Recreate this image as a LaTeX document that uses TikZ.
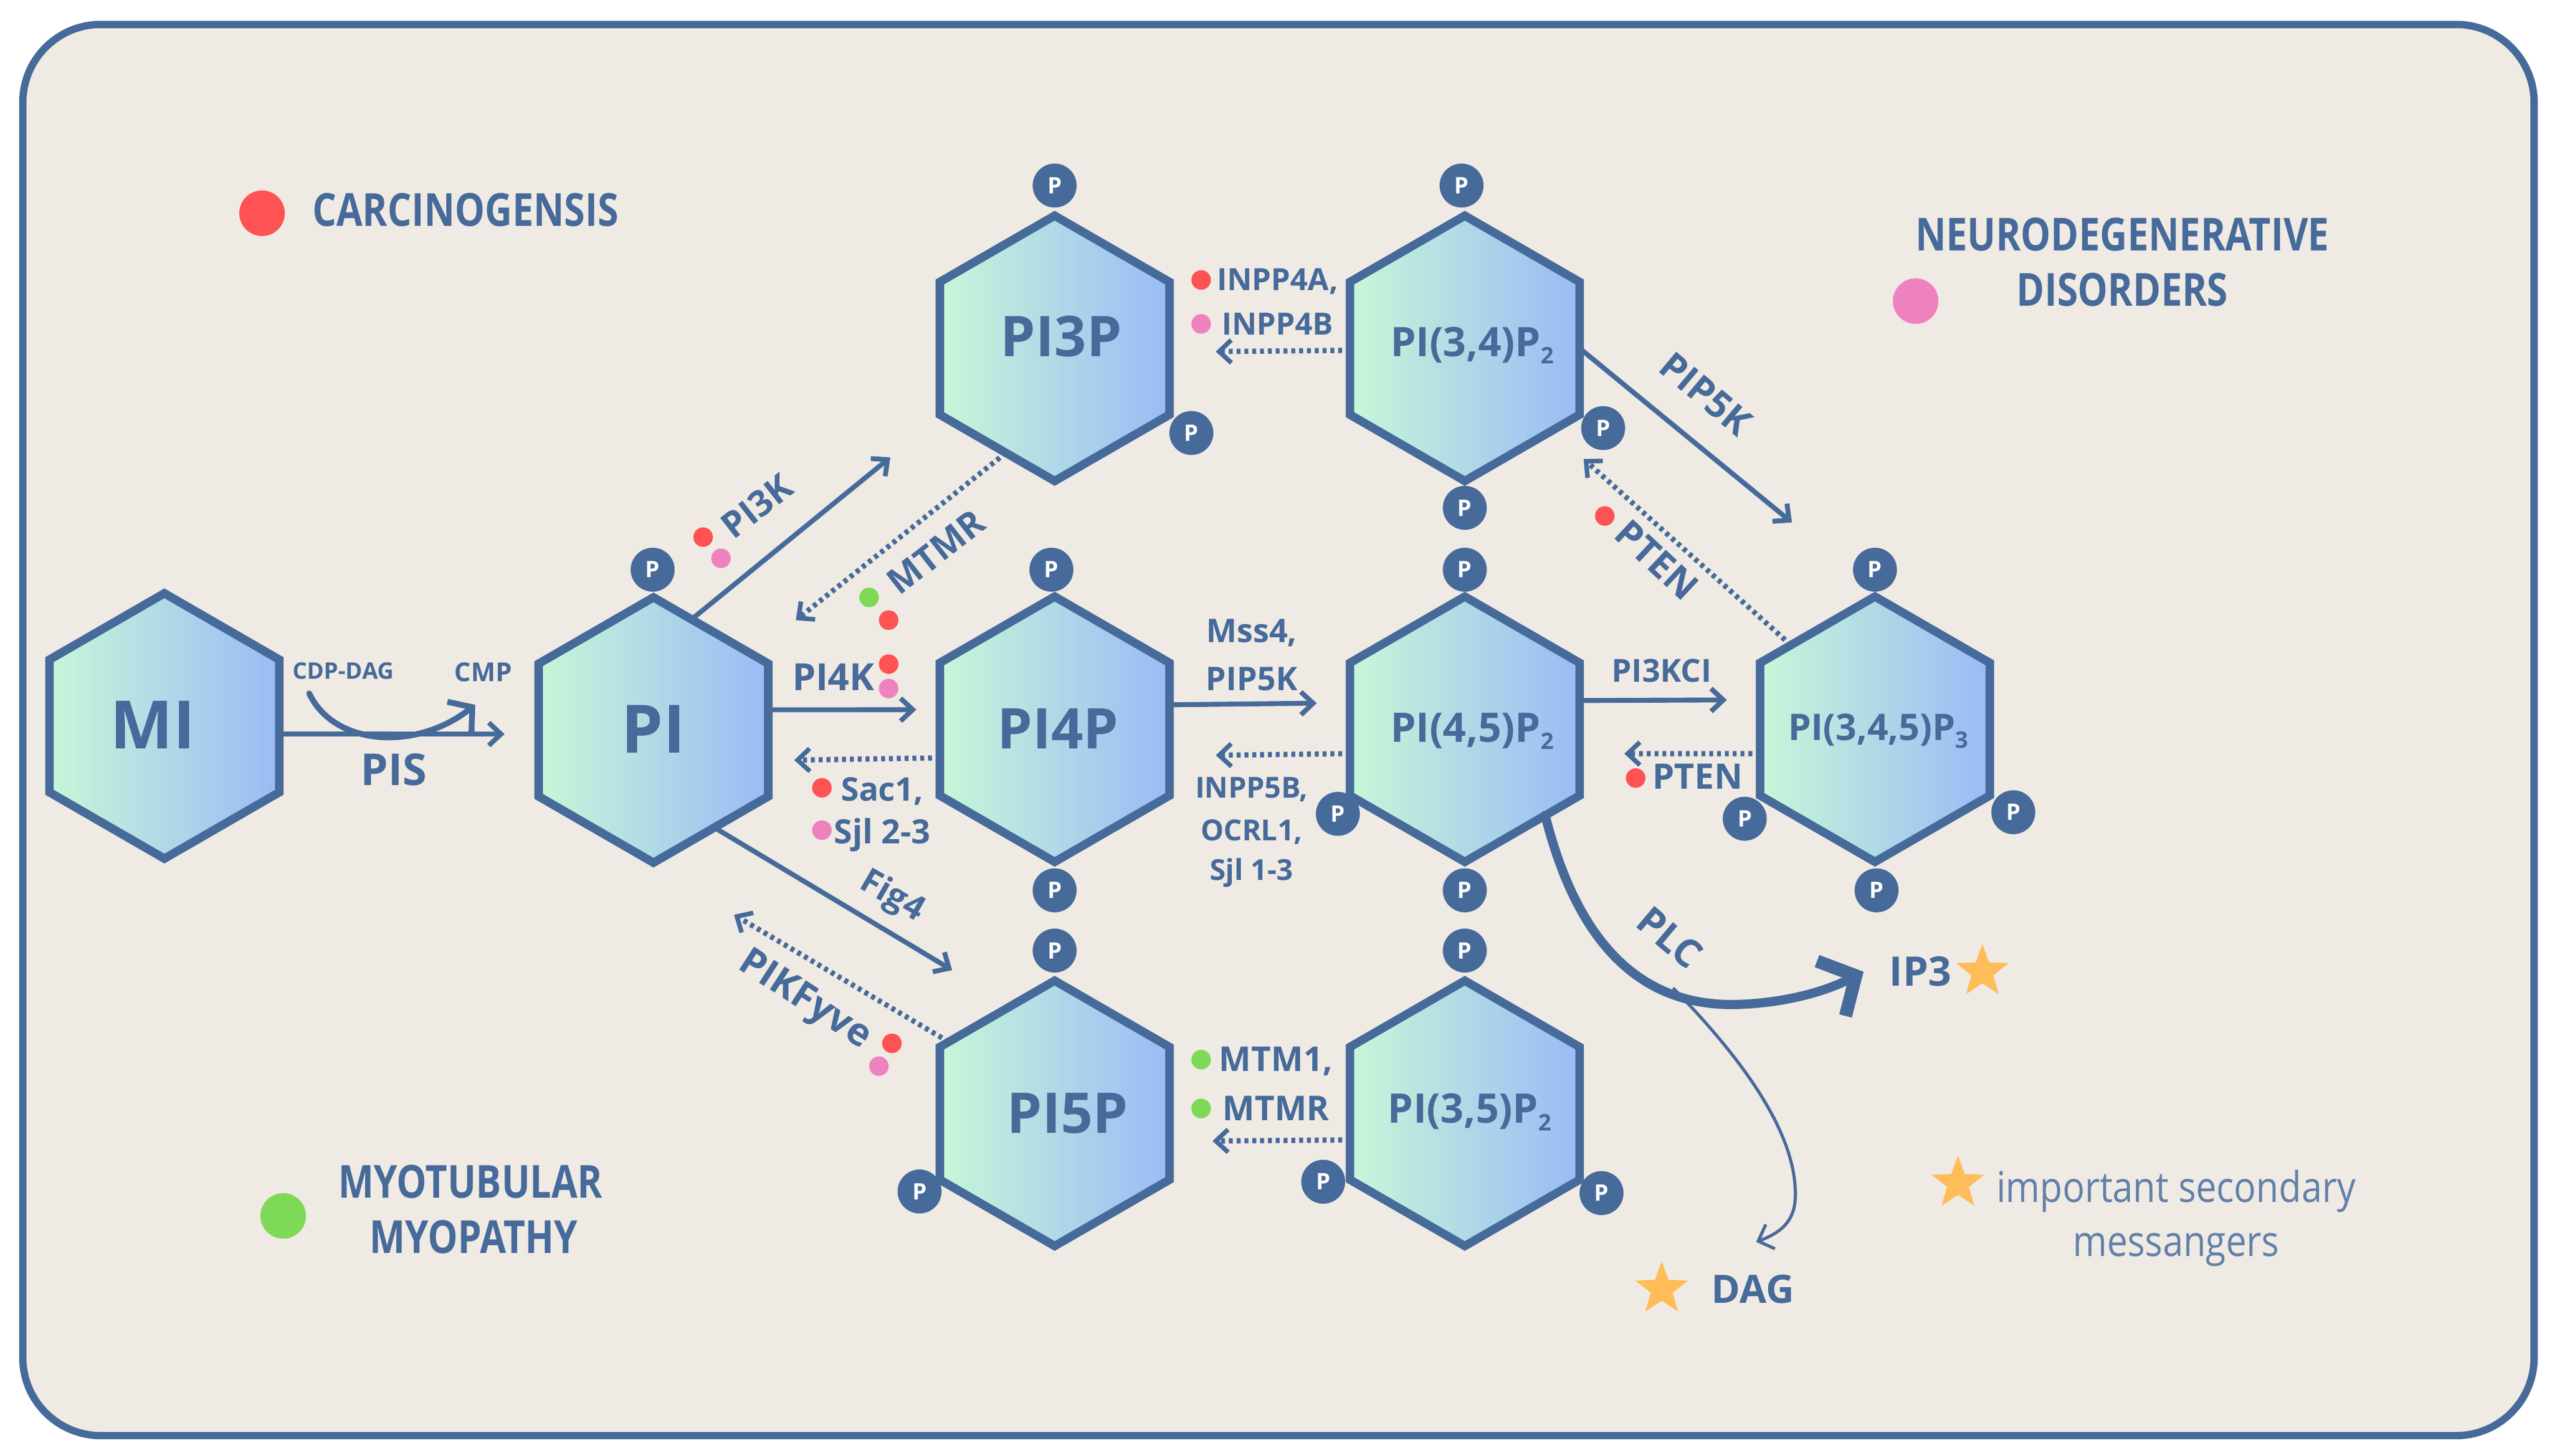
\documentclass[tikz,border=0pt]{standalone}
\usepackage{fontspec}
\setmainfont{Open Sans}
\newfontfamily\headfont[FakeStretch=0.83]{Open Sans}
\newfontfamily\litefont[FakeStretch=0.87]{Open Sans}
\usetikzlibrary{shapes.geometric,arrows.meta}
\definecolor{ink}{HTML}{466A9A}
\definecolor{paper}{HTML}{EFEAE3}
\definecolor{gleft}{HTML}{C6F8D8}
\definecolor{gmid}{HTML}{AEDBE6}
\definecolor{gright}{HTML}{98BBF6}
\definecolor{dred}{HTML}{FF5252}
\definecolor{dpink}{HTML}{EE82BE}
\definecolor{dgreen}{HTML}{7ED957}
\definecolor{dstar}{HTML}{FFBD59}
\newcommand\fsz[1]{\fontsize{#1}{#1}\selectfont}
% text of a hexagon: takes no room in the node, so the hexagons all keep one size
\newcommand\nudge[3]{\smash{\raisebox{#2pt}{\makebox[0pt][c]{\hspace*{#1pt}#3}}}}
\newcommand\sbs[1]{\raisebox{-4.5pt}{\fsz{14}#1}}
\tikzset{
  x=1pt,y=-1pt,
  hexa/.style={regular polygon,regular polygon sides=6,shape border rotate=30,minimum size=163pt,
    inner sep=0pt,outer sep=0pt,draw=ink,line width=5.2pt,left color=gleft,middle color=gmid,right color=gright,
    text=ink,font=\bfseries},
  txt/.style={inner sep=0pt,outer sep=0pt,text=ink,font=\bfseries\fsz{#1},align=center},
  txt/.default=19,
  head/.style={inner sep=0pt,text=ink,font=\headfont\bfseries\fsz{28},align=center},
  lite/.style={inner sep=0pt,text=ink!85,font=\litefont\fsz{26}},
  pball/.style={circle,fill=ink,minimum size=27pt,inner sep=0pt,text=white,font=\bfseries\fsz{14}},
  spot/.style={circle,fill=#1,minimum size=12pt,inner sep=0pt},
  bigspot/.style={circle,fill=#1,minimum size=28pt,inner sep=0pt},
  astar/.style={star,star points=5,star point ratio=2.4,fill=dstar,minimum size=34pt,inner sep=0pt},
  solidarrow/.style={draw=ink,line width=3pt,-{Straight Barb[length=7.5pt,width=14pt,line width=3pt]}},
  dotarrow/.style={draw=ink,line width=3.2pt,dash pattern=on 2.4pt off 2.4pt,-{Straight Barb[length=7.5pt,width=14pt,line width=2.8pt]}}
}
\begin{document}
\begin{tikzpicture}
\useasboundingbox (0,0) rectangle (1568,894.5);
\fill[white] (0,0) rectangle (1568,894.5);
\draw[draw=ink,fill=paper,line width=4.5pt,rounded corners=48pt] (14,15) rectangle (1557,882);

% hexagons
\node[hexa] (MI) at (101,446) {\fsz{41}\nudge{-14}{-14}{MI}};
\node[hexa] (PI) at (401.5,448.5) {\fsz{41}\nudge{0}{-14}{PI}};
\node[hexa] (PI3P) at (648,214) {\fsz{34.5}\nudge{8}{-5}{PI3P}};
\node[hexa] (PI4P) at (648,448) {\fsz{34.5}\nudge{4}{-12}{PI4P}};
\node[hexa] (PI5P) at (648,684) {\fsz{34.5}\nudge{16}{-12}{PI5P}};
\node[hexa] (PI34) at (900,214) {\fsz{25}\nudge{9}{-5}{PI(3,4)P\sbs{2}}};
\node[hexa] (PI45) at (900,448) {\fsz{25}\nudge{9}{-8}{PI(4,5)P\sbs{2}}};
\node[hexa] (PI35) at (900,684) {\fsz{25}\nudge{6}{-6}{PI(3,5)P\sbs{2}}};
\node[hexa] (PI345) at (1152,448) {\fsz{22.5}\nudge{4}{-7}{PI(3,4,5)P\sbs{3}}};

% phosphate balls
\node[pball] (p1) at (401,350) {P};
\node[pball] (p2) at (648,114) {P};
\node[pball] (p3) at (732,266) {P};
\node[pball] (p4) at (898,114) {P};
\node[pball] (p5) at (985,263) {P};
\node[pball] (p6) at (900,312) {P};
\node[pball] (p7) at (646,350) {P};
\node[pball] (p8) at (648,547) {P};
\node[pball] (p9) at (900,350) {P};
\node[pball] (p10) at (822,500) {P};
\node[pball] (p11) at (900,547) {P};
\node[pball] (p12) at (1152,350) {P};
\node[pball] (p13) at (1072,503) {P};
\node[pball] (p14) at (1237,499) {P};
\node[pball] (p15) at (1153,547) {P};
\node[pball] (p16) at (648,584) {P};
\node[pball] (p17) at (565,732) {P};
\node[pball] (p18) at (900,584) {P};
\node[pball] (p19) at (813,726) {P};
\node[pball] (p20) at (984,733) {P};

% free arrow ends
\coordinate (eMIPI) at (310,451);
\coordinate (ePI3P) at (547,281);
\coordinate (ePI4P) at (563,436);
\coordinate (ePI5P) at (585,596);
\coordinate (ePI45) at (809,432);
\coordinate (ePI345) at (1061,430);
\coordinate (ePIP5K) at (1101,321);
\coordinate (eMTMR) at (489,381);
\coordinate (eSac) at (488,467);
\coordinate (eFyve) at (451,562);
\coordinate (eINPP4) at (747,216);
\coordinate (eINPP5) at (747,464);
\coordinate (ePTENa) at (998,463);
\coordinate (ePTENb) at (973,282);
\coordinate (eMTM) at (745,701);

% solid arrows
\draw[solidarrow] (MI.-4) -- (eMIPI);
\draw[solidarrow] (PI.71) -- (ePI3P);
\draw[solidarrow] (PI.10) -- (ePI4P);
\draw[solidarrow] (PI.-58) -- (ePI5P);
\draw[solidarrow] (PI4P.12) -- (ePI45);
\draw[solidarrow] (PI45.14) -- (ePI345);
\draw[solidarrow] (PI34.0) -- (ePIP5K);
% dotted arrows
\draw[dotarrow] (PI3P.245) -- (eMTMR);
\draw[dotarrow] (PI4P.194) -- (eSac);
\draw[dotarrow] (PI5P.146) -- (eFyve);
\draw[dotarrow] (PI34.181) -- (eINPP4);
\draw[dotarrow] (PI45.192) -- (eINPP5);
\draw[dotarrow] (PI345.192) -- (ePTENa);
\draw[dotarrow] (PI345.135) -- (ePTENb);
\draw[dotarrow] (PI35.193) -- (eMTM);

% CDP-DAG curve
\coordinate (cdpS) at (190,426);
\coordinate (cdpE) at (292,433);
\draw[draw=ink,line width=3.6pt,line cap=round,-{Straight Barb[length=10pt,width=24pt,line width=3.6pt]}]
  (cdpS) .. controls (205,458) and (255,462) .. (cdpE);

% PLC and DAG curves
\coordinate (plcE) at (1145,597);
\coordinate (plcB) at (1028,607);
\coordinate (dagE) at (1079,763);
\draw[draw=ink,line width=1.9pt,-{Straight Barb[length=8pt,width=16pt,line width=1.9pt]}]
  (plcB) .. controls (1075,655) and (1105,700) .. (1103,737) .. controls (1102,750) and (1095,757) .. (dagE);
\draw[draw=ink,line width=5.6pt,line cap=round,-{Straight Barb[length=17pt,width=38pt,line width=8pt]}]
  (PI45.-47) .. controls (968,575) and (1005,620) .. (1070,617) .. controls (1095,616) and (1120,610) .. (plcE);

% enzyme labels
\node[txt=14] (tCDP) at (211,412) {CDP-DAG};
\node[txt=16] (tCMP) at (297,413) {CMP};
\node[txt=27] (tPIS) at (242,473) {PIS};
\node[txt=22,rotate=38] (tPI3K) at (465,311) {PI3K};
\node[txt=22,rotate=38] (tMTMR) at (575,339) {MTMR};
\node[txt=23] (tPI4K) at (512,416) {PI4K};
\node[txt=20] (tSac) at (542,486) {Sac1,};
\node[txt=20.5] (tSjl) at (542,513) {Sjl 2-3};
\node[txt=21,rotate=-30] (tFig) at (548,551) {Fig4};
\node[txt=23.5,rotate=-33] (tFyve) at (494,615) {PIKFyve};
\node[txt=18.8] (tINa) at (785,173) {INPP4A,};
\node[txt=18.8] (tINb) at (785,199) {INPP4B};
\node[txt=20] (tMss) at (769,389) {Mss4,};
\node[txt=20] (tPIP) at (769,417) {PIP5K};
\node[txt=17.8] (tIN5) at (769,485) {INPP5B,};
\node[txt=17.8] (tOC) at (769,511) {OCRL1,};
\node[txt=17.8] (tSjlb) at (769,536) {Sjl 1-3};
\node[txt=19.5] (tPI3KC) at (1021,412) {PI3KCI};
\node[txt=23,rotate=-40] (tPIPb) at (1048,242) {PIP5K};
\node[txt=23,rotate=-43] (tPTb) at (1018,344) {PTEN};
\node[txt=21.5] (tPTa) at (1043,477) {PTEN};
\node[txt=24,rotate=-40] (tPLC) at (1026,576) {PLC};
\node[txt=25] (tIP3) at (1180,597) {IP3};
\node[txt=24] (tDAG) at (1077,792) {DAG};
\node[txt=21] (tMTM) at (784,652) {MTM1,};
\node[txt=21] (tMTMRb) at (784,681) {MTMR};

% spots
\node[spot=dred] (s1) at (432,330) {};
\node[spot=dpink] (s2) at (443,343) {};
\node[spot=dgreen] (s3) at (534,367) {};
\node[spot=dred] (s4) at (546,381) {};
\node[spot=dred] (s5) at (546,408) {};
\node[spot=dpink] (s6) at (546,423) {};
\node[spot=dred] (s7) at (505,484) {};
\node[spot=dpink] (s8) at (505,510) {};
\node[spot=dred] (s9) at (548,641) {};
\node[spot=dpink] (s10) at (540,655) {};
\node[spot=dred] (s11) at (738,172) {};
\node[spot=dpink] (s12) at (738,199) {};
\node[spot=dgreen] (s13) at (738,651) {};
\node[spot=dgreen] (s14) at (738,681) {};
\node[spot=dred] (s15) at (986,317) {};
\node[spot=dred] (s16) at (1005,478) {};

% legend
\node[bigspot=dred] (l1) at (161,131) {};
\node[bigspot=dpink] (l2) at (1177,185) {};
\node[bigspot=dgreen] (l3) at (174,747) {};
\node[head] (hCar) at (286,129) {CARCINOGENSIS};
\node[head] (hNeu) at (1304,144) {NEURODEGENERATIVE};
\node[head] (hDis) at (1304,178) {DISORDERS};
\node[head] (hMyo) at (289,726) {MYOTUBULAR};
\node[head] (hMyp) at (291,760) {MYOPATHY};
\node[lite] (hImp) at (1337,732) {important secondary};
\node[lite] (hMes) at (1337,768) {messangers};
\node[astar] (st1) at (1218,597) {};
\node[astar] (st2) at (1203,727) {};
\node[astar] (st3) at (1021,792) {};
\end{tikzpicture}
\end{document}
